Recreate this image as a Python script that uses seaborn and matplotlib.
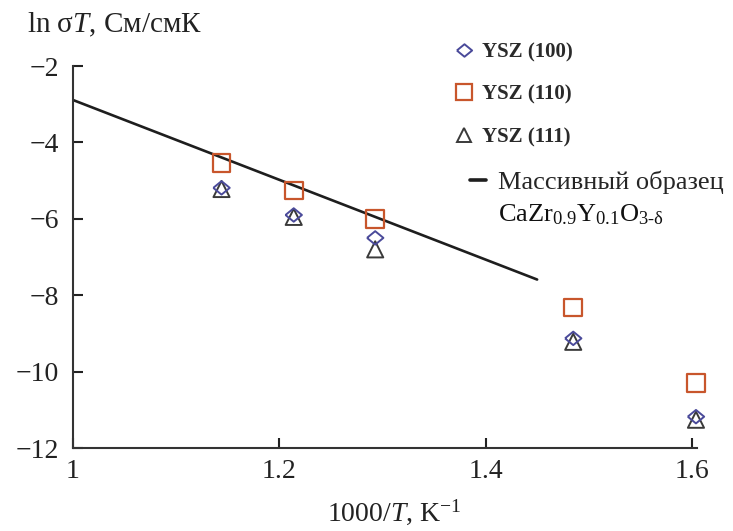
import matplotlib
matplotlib.use("Agg")
import matplotlib.pyplot as plt
from matplotlib.lines import Line2D
import seaborn as sns
import numpy as np

# ---- data ----
inv_T = [1.144, 1.214, 1.293, 1.485, 1.604]
ysz100 = [-5.19, -5.90, -6.50, -9.13, -11.18]
ysz110 = [-4.53, -5.26, -6.00, -8.32, -10.30]
ysz111 = [-5.22, -5.95, -6.80, -9.22, -11.26]
bulk_x = [1.0, 1.45]
bulk_y = [-2.89, -7.59]
x_ticks = [1.0, 1.2, 1.4, 1.6]
x_ticklabels = ["1", "1.2", "1.4", "1.6"]
y_ticks = [-12, -10, -8, -6, -4, -2]
y_ticklabels = ["\u221212", "\u221210", "\u22128", "\u22126", "\u22124", "\u22122"]
labels = ["YSZ (100)", "YSZ (110)", "YSZ (111)"]
bulk_label = "Массивный образец"
formula = r"CaZr$_{\mathrm{0.9}}$Y$_{\mathrm{0.1}}$O$_{\mathrm{3}\text{-}\mathrm{\delta}}$"

sns.set_style("ticks")
plt.rcParams["font.family"] = ["Liberation Serif", "DejaVu Serif"]
plt.rcParams["mathtext.fontset"] = "custom"
plt.rcParams["mathtext.rm"] = "Liberation Serif"
plt.rcParams["mathtext.it"] = "Liberation Serif:italic"
plt.rcParams["mathtext.bf"] = "Liberation Serif:bold"

W, H = 733, 531
fig = plt.figure(figsize=(W / 100, H / 100), dpi=100)
ax = fig.add_axes([73 / W, 1 - 448 / H, (697 - 73) / W, (448 - 66) / H])

c_dia = "#4a4a9a"
c_sq = "#c8562c"
c_tri = "#3a3a3a"
c_line = "#1e1e1e"

# wide, slightly flattened diamond
dia_marker = [(-1.0, 0.0), (0.0, 0.82), (1.0, 0.0), (0.0, -0.82), (-1.0, 0.0)]

sns.lineplot(x=bulk_x, y=bulk_y, ax=ax, color=c_line, linewidth=1.9, zorder=2)
sns.scatterplot(x=inv_T, y=ysz111, ax=ax, marker="^", s=135, facecolors="none",
                edgecolors=c_tri, linewidths=1.4, zorder=3, clip_on=False)
sns.scatterplot(x=inv_T, y=ysz100, ax=ax, marker=dia_marker, s=140, facecolors="none",
                edgecolors=c_dia, linewidths=1.4, zorder=4, clip_on=False)
sns.scatterplot(x=inv_T, y=ysz110, ax=ax, marker="s", s=165, facecolors="none",
                edgecolors=c_sq, linewidths=1.6, zorder=5, clip_on=False)

ax.set_xlim(1.0, 1.605)
ax.set_ylim(-12, -2)
ax.set_xticks(x_ticks)
ax.set_xticklabels(x_ticklabels)
ax.set_yticks(y_ticks)
ax.set_yticklabels(y_ticklabels)
ax.tick_params(direction="in", length=7.5, width=1.5, labelsize=20, colors="#222222")
ax.tick_params(axis="x", pad=8)
ax.tick_params(axis="y", pad=10)
for s in ["top", "right"]:
    ax.spines[s].set_visible(False)
for s in ["left", "bottom"]:
    ax.spines[s].set_linewidth(1.5)
    ax.spines[s].set_color("#333333")
ax.set_xlabel("")
ax.set_ylabel("")

fig.text(27 / W, 1 - 25 / H, r"ln σ$T$, См/смК", fontsize=21, va="center", ha="left", color="#222222")
fig.text(394 / W, 1 - 512 / H, r"1000/$T$, K$^{-1}$", fontsize=20, va="center", ha="center", color="#222222")

handles = [
    Line2D([], [], marker=dia_marker, linestyle="", markersize=11, markerfacecolor="none",
           markeredgecolor=c_dia, markeredgewidth=1.4),
    Line2D([], [], marker="s", linestyle="", markersize=11, markerfacecolor="none",
           markeredgecolor=c_sq, markeredgewidth=1.6),
    Line2D([], [], marker="^", linestyle="", markersize=10.5, markerfacecolor="none",
           markeredgecolor=c_tri, markeredgewidth=1.4),
]
leg1 = fig.legend(handles, labels, loc="upper left", bbox_to_anchor=(456 / W, 1 - 42 / H),
                  frameon=False, fontsize=15, handlelength=0.8, handletextpad=0.45,
                  labelspacing=1.08, borderpad=0, borderaxespad=0)
for t in leg1.get_texts():
    t.set_fontweight("bold")
    t.set_color("#2a2a2a")

leg2 = fig.legend([Line2D([], [], color=c_line, linewidth=2.6)], [bulk_label],
                  loc="upper left", bbox_to_anchor=(470 / W, 1 - 171 / H), frameon=False,
                  fontsize=19, handlelength=0.6, handletextpad=0.45, borderpad=0,
                  borderaxespad=0)
fig.text(498 / W, 1 - 215 / H, formula, fontsize=19, va="center", ha="left", color="#111111")

fig.savefig("out.png", dpi=100)
